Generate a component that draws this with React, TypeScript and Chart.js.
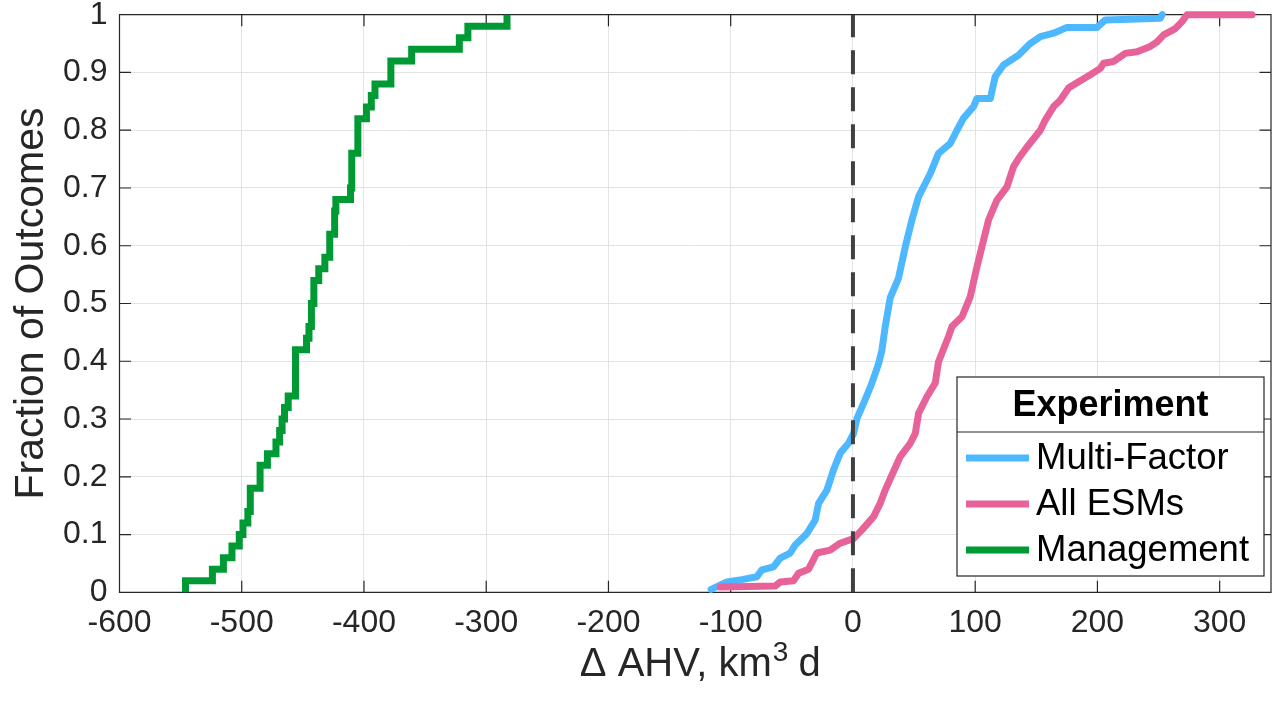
import React, { useEffect, useRef } from "react";
import { Chart, registerables } from "chart.js";

Chart.register(...registerables);

const FONT = "'Liberation Sans', Arial, Helvetica, sans-serif";

const xTicks = [-600, -500, -400, -300, -200, -100, 0, 100, 200, 300];
const xTickLabels = ["-600", "-500", "-400", "-300", "-200", "-100", "0", "100", "200", "300"];
const yTicks = [0, 0.1, 0.2, 0.3, 0.4, 0.5, 0.6, 0.7, 0.8, 0.9, 1];
const yTickLabels = ["0", "0.1", "0.2", "0.3", "0.4", "0.5", "0.6", "0.7", "0.8", "0.9", "1"];

const yTitle = "Fraction of Outcomes";
const xTitleMain = "\u0394 AHV, km";
const xTitleSup = "3";
const xTitleEnd = " d";

const legendTitle = "Experiment";
const seriesNames = ["Multi-Factor", "All ESMs", "Management"];
const seriesColors = ["#4db8ff", "#e8629a", "#009a35"];

const multiX = [-116, -103, -91, -78.6, -74.5, -65, -59.5, -51.3, -47.2, -37.6, -30.9, -28.1, -21.3, -15.9, -10.4, -3.6, 0.5, 3.3, 8.7, 15.5, 21, 23.7, 26.4, 30.5, 37.3, 42.8, 48.3, 53.7, 63.3, 70, 79.6, 85.1, 90.5, 98.7, 101.5, 112.4, 116.4, 123.2, 135.5, 145, 153.3, 164.2, 175.1, 199.7, 206.5, 251.5, 253];
const multiY = [0.005, 0.018, 0.022, 0.027, 0.039, 0.044, 0.059, 0.068, 0.082, 0.102, 0.125, 0.154, 0.177, 0.212, 0.241, 0.258, 0.275, 0.301, 0.327, 0.362, 0.396, 0.419, 0.46, 0.51, 0.544, 0.598, 0.645, 0.685, 0.725, 0.76, 0.777, 0.8, 0.821, 0.841, 0.855, 0.855, 0.893, 0.913, 0.93, 0.95, 0.962, 0.968, 0.978, 0.978, 0.991, 0.994, 1.0];

// All ESMs
const esmX = [-108.6, -63.6, -59.5, -48.6, -44.5, -36.3, -29.5, -18.6, -10.4, 0.5, 7.4, 16.9, 22.3, 26.4, 31.9, 38.7, 46.9, 51, 53.7, 60.6, 67.3, 70, 78.2, 81, 89.2, 96, 101.5, 106.9, 111, 117.8, 126, 131.4, 135.5, 142.4, 153.3, 157.4, 164.2, 169.6, 176.4, 184.6, 194.2, 202.4, 205.1, 213.3, 222.8, 232.4, 243.3, 248.8, 254.2, 263.7, 269.2, 273.3, 326.5];
const esmY = [0.009, 0.011, 0.018, 0.02, 0.033, 0.04, 0.068, 0.073, 0.085, 0.093, 0.108, 0.131, 0.154, 0.177, 0.203, 0.235, 0.258, 0.275, 0.31, 0.339, 0.362, 0.399, 0.443, 0.46, 0.477, 0.512, 0.564, 0.61, 0.645, 0.679, 0.702, 0.737, 0.751, 0.771, 0.8, 0.818, 0.841, 0.852, 0.873, 0.884, 0.896, 0.907, 0.916, 0.919, 0.933, 0.936, 0.945, 0.953, 0.965, 0.976, 0.988, 1.0, 1.0];

// Management (stair steps)
const mgmtX = [-546, -546, -524, -515, -508, -502, -499, -495, -493, -485, -479, -472, -469, -467, -465, -462, -456, -447, -445, -443, -441, -437, -432, -428, -424, -423, -411, -410, -405, -398, -394, -391, -378, -361, -322, -315, -283];
const mgmtY = [0, 0.02, 0.04, 0.06, 0.08, 0.1, 0.12, 0.14, 0.18, 0.22, 0.24, 0.26, 0.28, 0.3, 0.32, 0.34, 0.42, 0.44, 0.46, 0.5, 0.54, 0.56, 0.58, 0.62, 0.66, 0.68, 0.7, 0.76, 0.82, 0.84, 0.86, 0.88, 0.92, 0.94, 0.96, 0.98, 1.0];

const zeroLineX = [0, 0];
const zeroLineY = [0, 1];

const toPts = (xs: number[], ys: number[]) => xs.map((x, i) => ({ x, y: ys[i] }));

const AXIS_COLOR = "#262626";

const framePlugin = {
  id: "frame",
  beforeDatasetsDraw(chart: any) {
    const { ctx, chartArea } = chart;
    const { left, right, top, bottom } = chartArea;
    const xs = chart.scales.x;
    const ys = chart.scales.y;
    const tl = 11.5;
    ctx.save();
    ctx.strokeStyle = AXIS_COLOR;
    ctx.lineWidth = 1.2;
    ctx.beginPath();
    ctx.rect(left, top, right - left, bottom - top);
    xTicks.forEach((v) => {
      const p = xs.getPixelForValue(v);
      ctx.moveTo(p, bottom);
      ctx.lineTo(p, bottom - tl);
      ctx.moveTo(p, top);
      ctx.lineTo(p, top + tl);
    });
    yTicks.forEach((v) => {
      const p = ys.getPixelForValue(v);
      ctx.moveTo(left, p);
      ctx.lineTo(left + tl, p);
      ctx.moveTo(right, p);
      ctx.lineTo(right - tl, p);
    });
    ctx.stroke();
    ctx.restore();
  },
  afterDraw(chart: any) {
    const { ctx, chartArea } = chart;
    ctx.save();
    // x-axis title with superscript
    const mainFont = `40px ${FONT}`;
    const supFont = `28px ${FONT}`;
    ctx.font = mainFont;
    const w1 = ctx.measureText(xTitleMain).width;
    const w3 = ctx.measureText(xTitleEnd).width;
    ctx.font = supFont;
    const w2 = ctx.measureText(xTitleSup).width;
    const total = w1 + w2 + w3;
    const cx = (chartArea.left + chartArea.right) / 2 + 5;
    let x = cx - total / 2;
    const base = 676;
    ctx.fillStyle = AXIS_COLOR;
    ctx.textBaseline = "alphabetic";
    ctx.textAlign = "left";
    ctx.font = mainFont;
    ctx.fillText(xTitleMain, x, base);
    x += w1;
    ctx.font = supFont;
    ctx.fillText(xTitleSup, x + 1, base - 15);
    x += w2;
    ctx.font = mainFont;
    ctx.fillText(xTitleEnd, x, base);

    // legend
    const bx = 957, by = 377, bw = 307, bh = 199;
    ctx.fillStyle = "#ffffff";
    ctx.fillRect(bx, by, bw, bh);
    ctx.strokeStyle = AXIS_COLOR;
    ctx.lineWidth = 1.2;
    ctx.strokeRect(bx, by, bw, bh);
    ctx.beginPath();
    ctx.moveTo(bx, 432);
    ctx.lineTo(bx + bw, 432);
    ctx.stroke();
    ctx.fillStyle = "#000000";
    ctx.font = `bold 36px ${FONT}`;
    ctx.textAlign = "center";
    ctx.textBaseline = "middle";
    ctx.fillText(legendTitle, bx + bw / 2, 406);
    const rowsY = [458, 504, 550];
    seriesNames.forEach((name, i) => {
      ctx.strokeStyle = seriesColors[i];
      ctx.lineWidth = 7;
      ctx.lineCap = "butt";
      ctx.beginPath();
      ctx.moveTo(966, rowsY[i]);
      ctx.lineTo(1029, rowsY[i]);
      ctx.stroke();
      ctx.fillStyle = "#000000";
      ctx.font = `36.5px ${FONT}`;
      ctx.textAlign = "left";
      ctx.textBaseline = "middle";
      ctx.fillText(name, 1036, rowsY[i] + 1);
    });
    ctx.restore();
  },
};

export default function App() {
  const ref = useRef<HTMLCanvasElement | null>(null);
  useEffect(() => {
    if (!ref.current) return;
    const chart = new Chart(ref.current, {
      type: "line",
      data: {
        datasets: [
          {
            label: "zero",
            data: toPts(zeroLineX, zeroLineY),
            borderColor: "#404040",
            borderWidth: 4,
            borderDash: [24, 13],
            pointRadius: 0,
            fill: false,
          },
          {
            label: seriesNames[1],
            data: toPts(esmX, esmY),
            borderColor: seriesColors[1],
            borderWidth: 7,
            pointRadius: 0,
            tension: 0,
            borderJoinStyle: "round",
            borderCapStyle: "round",
            clip: false,
            fill: false,
          },
          {
            label: seriesNames[0],
            data: toPts(multiX, multiY),
            borderColor: seriesColors[0],
            borderWidth: 7,
            pointRadius: 0,
            tension: 0,
            borderJoinStyle: "round",
            borderCapStyle: "round",
            clip: false,
            fill: false,
          },
          {
            label: seriesNames[2],
            data: toPts(mgmtX, mgmtY),
            borderColor: seriesColors[2],
            borderWidth: 7,
            pointRadius: 0,
            stepped: true,
            borderJoinStyle: "miter",
            borderCapStyle: "butt",
            clip: false,
            fill: false,
          },
        ],
      },
      options: {
        responsive: false,
        animation: false,
        devicePixelRatio: 1,
        layout: { padding: { top: 14.7, right: 1, left: 0, bottom: 0 } },
        plugins: { legend: { display: false }, tooltip: { enabled: false } },
        scales: {
          x: {
            type: "linear",
            min: -600,
            max: 342,
            afterBuildTicks: (s: any) => {
              s.ticks = xTicks.map((v) => ({ value: v }));
            },
            afterFit: (s: any) => {
              s.height = 113.7;
              s.paddingLeft = 0;
              s.paddingRight = 0;
            },
            grid: { color: "#e3e3e3", lineWidth: 1, drawTicks: false },
            border: { display: false },
            ticks: {
              padding: 12,
              color: AXIS_COLOR,
              font: { family: FONT, size: 32 },
              maxRotation: 0,
              autoSkip: false,
              callback: (_v: any, i: number) => xTickLabels[i],
            },
          },
          y: {
            type: "linear",
            min: 0,
            max: 1,
            afterBuildTicks: (s: any) => {
              s.ticks = yTicks.map((v) => ({ value: v }));
            },
            afterFit: (s: any) => {
              s.width = 119.5;
              s.paddingTop = 0;
              s.paddingBottom = 0;
            },
            grid: { color: "#e3e3e3", lineWidth: 1, drawTicks: false },
            border: { display: false },
            ticks: {
              padding: 12,
              color: AXIS_COLOR,
              font: { family: FONT, size: 32 },
              autoSkip: false,
              callback: (_v: any, i: number) => yTickLabels[i],
            },
            title: {
              display: true,
              text: yTitle,
              color: AXIS_COLOR,
              font: { family: FONT, size: 41 },
              padding: { top: 7, bottom: 0 },
            },
          },
        },
      },
      plugins: [framePlugin],
    });
    return () => chart.destroy();
  }, []);
  return (
    <div style={{ position: "absolute", left: 0, top: 0, width: 1272, height: 706, background: "#fff" }}>
      <canvas ref={ref} width={1272} height={706} />
    </div>
  );
}
